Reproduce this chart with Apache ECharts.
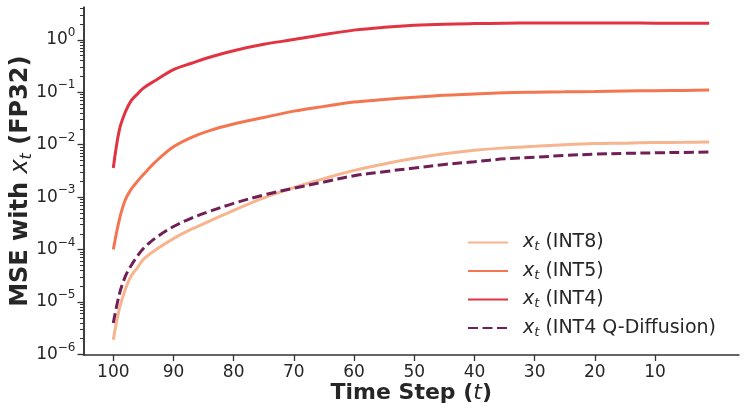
<!DOCTYPE html>
<html><head><meta charset="utf-8">
<script src="https://cdn.jsdelivr.net/npm/echarts@6/dist/echarts.min.js"></script>
<style>html,body{margin:0;padding:0;background:#fff}#c{width:747px;height:415px}</style>
</head><body><div id="c"></div>
<script>
// ---- data ----
const timeSteps = [100,99,98,97,96,95,93,90,87,84,80,75,70,65,60,55,50,45,40,35,30,25,20,15,10,5,1];
const int8 = [1.9e-6,7.4e-6,1.76e-5,3.2e-5,4.5e-5,6.5e-5,9.8e-5,1.62e-4,2.45e-4,3.5e-4,5.6e-4,9.7e-4,1.52e-3,2.25e-3,3.24e-3,4.3e-3,5.5e-3,6.7e-3,7.8e-3,8.7e-3,9.3e-3,1.0e-2,1.05e-2,1.07e-2,1.1e-2,1.11e-2,1.12e-2];
const int5 = [1.0e-4,3.7e-4,8.9e-4,1.43e-3,2.0e-3,2.7e-3,4.7e-3,9.1e-3,1.38e-2,1.86e-2,2.48e-2,3.3e-2,4.37e-2,5.38e-2,6.5e-2,7.28e-2,8.05e-2,8.77e-2,9.23e-2,9.77e-2,0.100,0.1017,0.1035,0.1055,0.107,0.108,0.110];
const int4 = [3.6e-3,1.9e-2,4.2e-2,7.0e-2,9.2e-2,0.12,0.168,0.27,0.357,0.466,0.62,0.82,1.01,1.26,1.53,1.73,1.89,1.99,2.04,2.07,2.09,2.1,2.1,2.09,2.08,2.07,2.06];
const int4QDiffusion = [3.98e-6,1.4e-5,3.09e-5,5.05e-5,7.5e-5,1.05e-4,1.66e-4,2.75e-4,3.98e-4,5.37e-4,7.6e-4,1.1e-3,1.48e-3,1.95e-3,2.56e-3,3.06e-3,3.59e-3,4.2e-3,4.73e-3,5.37e-3,5.75e-3,6.24e-3,6.6e-3,6.84e-3,7.0e-3,7.13e-3,7.24e-3];
const seriesNames = ['INT8','INT5','INT4','INT4 Q-Diffusion'];
const xTickValues = [100,90,80,70,60,50,40,30,20,10];
const yTickValues = [1e-6,1e-5,1e-4,1e-3,1e-2,1e-1,1];

// ---- styling ----
const FONT = 'DejaVu Sans';
const TXT = '#262626';
const AX = '#333333';
const colors = ['#f6b48f','#f37651','#e13342','#701f57'];
const yMin = Math.pow(10,-6.01), yMax = Math.pow(10,0.62);
const xMin = -3.95, xMax = 104.95;
const minorTicks = [];
for (let k=-6;k<=0;k++) for (let m=2;m<=9;m++){ const v=m*Math.pow(10,k); if (v<yMax) minorTicks.push(v); }

function pairs(arr){ return timeSteps.map((t,i)=>[t, arr[i]]); }
const datasets = [int8,int5,int4,int4QDiffusion];

function supLabel(v){
  const e = Math.round(Math.log10(v));
  if (Math.abs(Math.log10(v)-e) > 1e-6) return '';
  return '{b|10}{s|' + (e<0 ? '\u2212'+(-e) : ''+e) + '}';
}

const gridRect = {left:83.5, right:8, top:7.3, bottom:60, containLabel:false, outerBoundsMode:'none'};
const chart = echarts.init(document.getElementById('c'), null, {renderer:'canvas', width:747, height:415});
chart.setOption({
  animation:false,
  backgroundColor:'#ffffff',
  grid:[Object.assign({}, gridRect), Object.assign({}, gridRect)],
  xAxis:[{
    gridIndex:0, type:'value', inverse:true, min:xMin, max:xMax,
    axisLine:{show:true, onZero:false, lineStyle:{color:AX, width:1.5}},
    axisTick:{show:true, length:6, lineStyle:{color:AX, width:1.3}, customValues:xTickValues},
    axisLabel:{color:TXT, fontSize:17, fontFamily:FONT, margin:9, customValues:xTickValues},
    splitLine:{show:false},
    name:'{b|Time Step (}{i|t}{b|)}', nameLocation:'middle', nameGap:27, nameMoveOverlap:false,
    nameTextStyle:{rich:{
      b:{fontSize:22, fontWeight:'bold', fontFamily:FONT, color:TXT},
      i:{fontSize:22, fontStyle:'italic', fontFamily:FONT, color:TXT}
    }}
  },{
    gridIndex:1, type:'value', inverse:true, min:xMin, max:xMax, show:false
  }],
  yAxis:[{
    gridIndex:0, type:'log', logBase:10, min:yMin, max:yMax,
    axisLine:{show:true, onZero:false, lineStyle:{color:AX, width:1.5}},
    axisTick:{show:true, length:6, lineStyle:{color:AX, width:1.3}, customValues:yTickValues},
    axisLabel:{color:TXT, fontFamily:FONT, margin:8, customValues:yTickValues, formatter:supLabel,
      rich:{
        b:{fontSize:17, fontFamily:FONT, color:TXT},
        s:{fontSize:12, fontFamily:FONT, color:TXT, padding:[0,0,14,0]}
      }},
    splitLine:{show:false},
    name:'{b|MSE with }{i|x}{s|t}{b| (FP32)}', nameLocation:'middle', nameRotate:90, nameGap:49, nameMoveOverlap:false,
    nameTextStyle:{rich:{
      b:{fontSize:24, fontWeight:'bold', fontFamily:FONT, color:TXT},
      i:{fontSize:24, fontStyle:'italic', fontFamily:FONT, color:TXT},
      s:{fontSize:16, fontStyle:'italic', fontFamily:FONT, color:TXT, padding:[11,0,0,0]}
    }}
  },{
    gridIndex:1, type:'log', logBase:10, min:yMin, max:yMax, position:'left', offset:0,
    axisLine:{show:true, onZero:false, lineStyle:{color:AX, width:1.5}},
    axisTick:{show:true, length:3.5, lineStyle:{color:AX, width:1}, customValues:minorTicks},
    axisLabel:{show:false},
    splitLine:{show:false}
  }],
  legend:{
    orient:'vertical', left:462, top:228, itemWidth:40, itemHeight:14, itemGap:8,
    itemStyle:{opacity:0},
    formatter:name=>'{i|x}{s|t}{r| ('+name+')}',
    textStyle:{color:TXT, fontFamily:FONT, padding:[0,0,0,10], rich:{
      i:{fontSize:19, fontStyle:'italic', fontFamily:FONT, color:TXT},
      s:{fontSize:13, fontStyle:'italic', fontFamily:FONT, color:TXT, padding:[9,0,0,0]},
      r:{fontSize:19, fontFamily:FONT, color:TXT}
    }},
    data:seriesNames
  },
  series: seriesNames.map((n,i)=>({
    name:n, type:'line', xAxisIndex:0, yAxisIndex:0, data:pairs(datasets[i]), showSymbol:false, symbol:'none',
    smooth:0.35,
    lineStyle:{color:colors[i], width:3, type: i===3 ? [10,4.5] : 'solid', cap:'butt'},
    itemStyle:{color:colors[i]},
    z: 2+i
  }))
});
</script></body></html>
